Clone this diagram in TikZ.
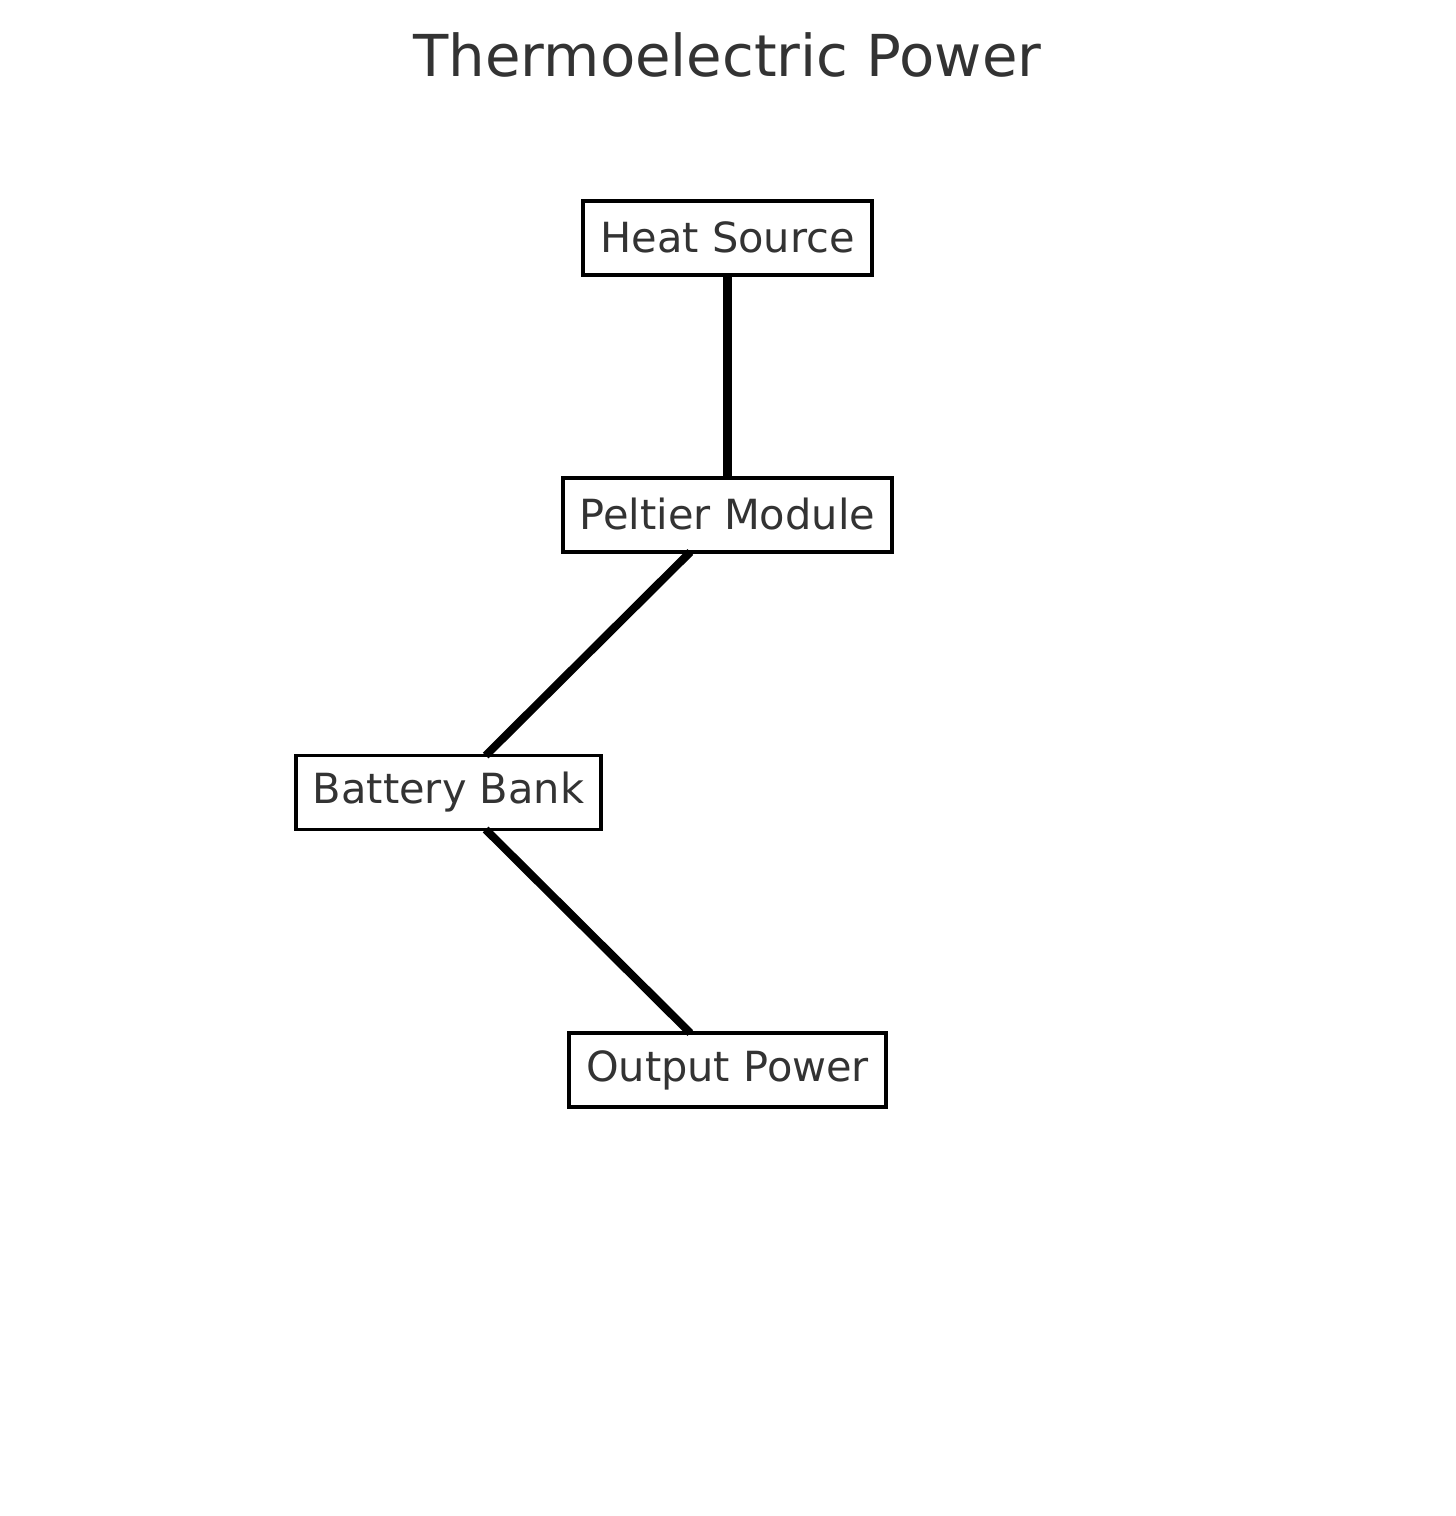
\documentclass[tikz,border=0pt]{standalone}
\usepackage{fontspec}
\setmainfont{DejaVu Sans}
\definecolor{txt}{HTML}{333333}
\newcommand\lift[1]{\raisebox{1.4pt}{#1}}
\begin{document}
\begin{tikzpicture}[x=0.72pt,y=-0.72pt,
  box/.style={draw=black,line width=2.6pt,fill=white,text=txt,font=\fontsize{29.9}{34}\selectfont,
    minimum height=53.28pt,inner sep=0pt,outer sep=0pt,anchor=center},
  link/.style={line width=5.8pt,draw=black}]
\useasboundingbox (0,0) rectangle (1455,1516);
\node[text=txt,font=\fontsize{41.6}{48}\selectfont] (title) at (727.5,55) {Thermoelectric Power};
\node[box,minimum width=208.08pt] (heat) at (727.5,238) {\lift{Heat Source}};
\node[box,minimum width=236.88pt] (pelt) at (727.5,515) {\lift{Peltier Module}};
\node[box,minimum width=219.6pt] (batt) at (448.5,792.5) {\lift{Battery Bank}};
\node[box,minimum width=228.24pt] (out) at (727.5,1070) {\lift{Output Power}};
\draw[link] (heat) -- (pelt);
\draw[link] (pelt) -- (batt);
\draw[link] (batt) -- (out);
\end{tikzpicture}
\end{document}
